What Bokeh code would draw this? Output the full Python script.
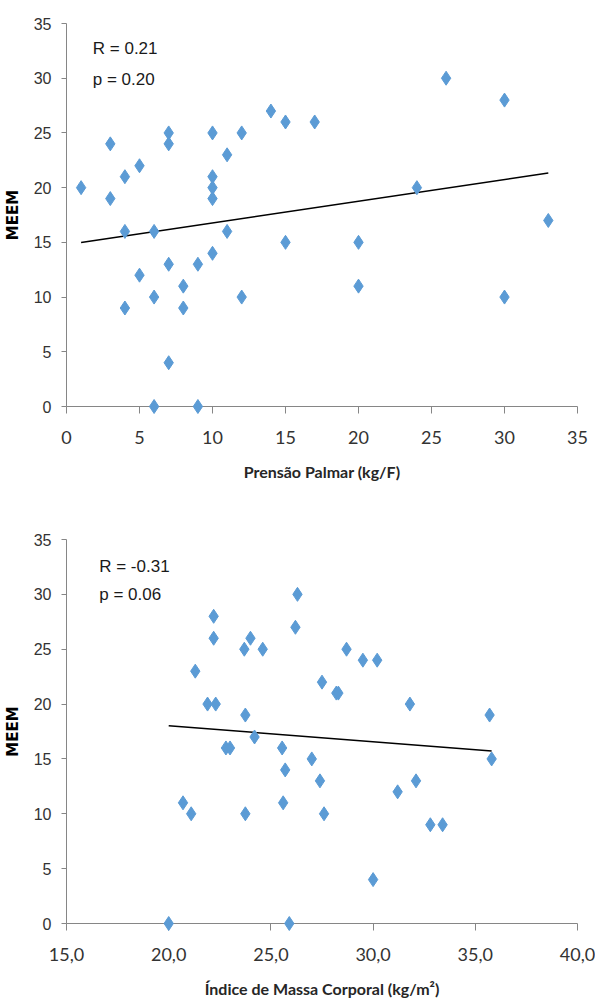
import numpy as np
from bokeh.plotting import figure
from bokeh.layouts import column
from bokeh.models import Range1d, FixedTicker, Label
from bokeh.embed import file_html
from bokeh.resources import INLINE

# ---- data: chart 1 (Prensão Palmar vs MEEM)
grip = [1, 3, 3, 4, 4, 4, 5, 5, 6, 6, 6, 7, 7, 7, 7, 8, 8, 9, 9, 10, 10, 10, 10, 10,
        11, 11, 12, 12, 14, 15, 15, 17, 20, 20, 24, 26, 30, 30, 33]
meem_grip = [20, 24, 19, 21, 16, 9, 22, 12, 16, 10, 0, 25, 24, 13, 4, 11, 9, 13, 0, 25, 21, 20, 19, 14,
             23, 16, 25, 10, 27, 26, 15, 26, 15, 11, 20, 30, 28, 10, 17]

# ---- data: chart 2 (IMC vs MEEM)
imc = [21.3, 22.2, 22.2, 21.9, 22.3, 23.7, 24.0, 24.6, 23.75, 24.2, 22.8, 23.0, 25.55, 25.7,
       26.2, 26.3, 28.7, 29.5, 30.2, 27.5, 28.2, 28.3, 31.8, 35.7, 35.8, 27.0, 20.7, 21.1,
       20.0, 23.75, 25.6, 25.9, 27.4, 27.6, 31.2, 32.1, 32.8, 33.4, 30.0]
meem_imc = [23, 28, 26, 20, 20, 25, 26, 25, 19, 17, 16, 16, 16, 14,
            27, 30, 25, 24, 24, 22, 21, 21, 20, 19, 15, 15, 11, 10,
            0, 10, 11, 0, 13, 10, 12, 13, 9, 9, 4]

y_ticks = [0, 5, 10, 15, 20, 25, 30, 35]
x1_ticks = [0, 5, 10, 15, 20, 25, 30, 35]
x2_ticks = [15, 20, 25, 30, 35, 40]
x2_tick_labels = ["15,0", "20,0", "25,0", "30,0", "35,0", "40,0"]
stats1 = ["R = 0.21", "p = 0.20"]
stats2 = ["R = -0.31", "p = 0.06"]
y_title = "MEEM"
x1_title = "Prensão Palmar (kg/F)"
x2_title = "Índice de Massa Corporal (kg/m²)"

BLUE = "#5B9BD5"
AXIS = "#868686"
TICKTXT = "#333333"
W = 595


def make_fig(x, y, xr, xticks, xlabels, xtitle, stats, height, frame_w, btop, bbottom, sx, sy):
    p = figure(width=W, height=height, x_range=Range1d(*xr), y_range=Range1d(0, 35),
               output_backend="svg", toolbar_location=None,
               min_border_left=65, min_border_right=W - 65 - frame_w,
               min_border_top=btop, min_border_bottom=bbottom)
    p.outline_line_color = None
    p.xgrid.visible = False
    p.ygrid.visible = False
    p.background_fill_color = "white"
    p.border_fill_color = "white"

    xa = p.xaxis[0]
    xa.ticker = FixedTicker(ticks=xticks)
    if xlabels is not None:
        xa.major_label_overrides = {t: l for t, l in zip(xticks, xlabels)}
    xa.axis_line_color = AXIS
    xa.major_tick_line_color = AXIS
    xa.major_tick_out = 7
    xa.major_tick_in = 0
    xa.minor_tick_line_color = None
    xa.major_label_text_font = "Lato"
    xa.major_label_text_font_size = "18px"
    xa.major_label_text_color = TICKTXT
    xa.major_label_standoff = 17
    xa.axis_label = xtitle
    xa.axis_label_text_font = "Lato"
    xa.axis_label_text_font_style = "bold"
    xa.axis_label_text_font_size = "16px"
    xa.axis_label_text_color = "#262626"
    xa.axis_label_standoff = 15

    ya = p.yaxis[0]
    ya.ticker = FixedTicker(ticks=y_ticks)
    ya.axis_line_color = AXIS
    ya.major_tick_line_color = AXIS
    ya.major_tick_out = 5
    ya.major_tick_in = 0
    ya.minor_tick_line_color = None
    ya.major_label_text_font = "Liberation Sans"
    ya.major_label_text_font_size = "16px"
    ya.major_label_text_color = TICKTXT
    ya.major_label_standoff = 10
    ya.axis_label = y_title
    ya.axis_label_text_font = "DejaVu Sans"
    ya.axis_label_text_font_style = "bold"
    ya.axis_label_text_font_size = "15px"
    ya.axis_label_text_color = "black"
    ya.axis_label_standoff = 9

    # trend line (least squares from the data)
    xa_ = np.array(x, dtype=float)
    ya_ = np.array(y, dtype=float)
    k, b = np.polyfit(xa_, ya_, 1)
    lx = [xa_.min(), xa_.max()]
    p.line(lx, [k * v + b for v in lx], line_color="black", line_width=1.5)

    p.scatter(x, y, marker="diamond", size=14, fill_color=BLUE, line_color=BLUE,
              level="overlay")

    for txt, yy in zip(stats, sy):
        p.add_layout(Label(x=sx, y=yy, text=txt, text_font="Liberation Sans",
                           text_font_size="17px", text_color="#1a1a1a",
                           text_baseline="middle", text_align="left"))
    return p


p1 = make_fig(grip, meem_grip, (0, 35), x1_ticks, None, x1_title, stats1,
              height=524, frame_w=518, btop=23, bbottom=118, sx=1.8, sy=[32.7, 29.9])
p2 = make_fig(imc, meem_imc, (15, 40), x2_ticks, x2_tick_labels, x2_title, stats2,
              height=479, frame_w=512, btop=15, bbottom=80, sx=16.6, sy=[32.5, 30.0])

layout = column(p1, p2, spacing=0)
open("out.html", "w").write(file_html(layout, INLINE))
